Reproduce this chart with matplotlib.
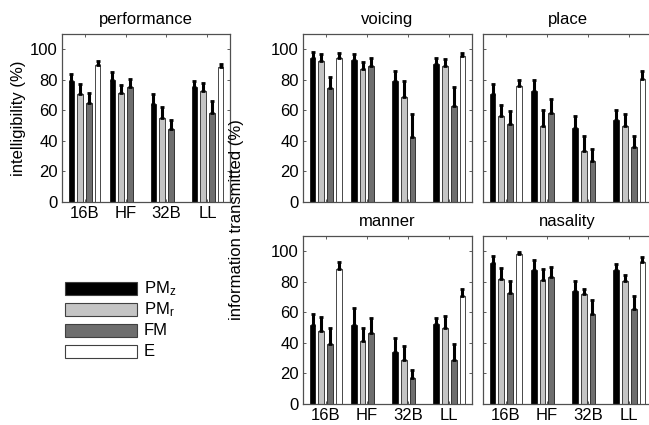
import numpy as np
import matplotlib
matplotlib.use("Agg")
import matplotlib.pyplot as plt
from matplotlib.patches import Rectangle

plt.rcParams['font.family'] = ['Liberation Sans', 'DejaVu Sans']
plt.rcParams['mathtext.fontset'] = 'custom'
plt.rcParams['mathtext.rm'] = 'Liberation Sans'
plt.rcParams['mathtext.it'] = 'Liberation Sans'

conditions = ['16B', 'HF', '32B', 'LL']
series = ['PM$_z$', 'PM$_r$', 'FM', 'E']
colors = ['#000000', '#c4c4c4', '#6e6e6e', '#ffffff']

performance_mean = [[79, 80, 64, 75], [71, 71.5, 55, 73], [65, 75, 47.5, 58.5], [90, np.nan, np.nan, 88.5]]
performance_err = [[5, 5, 7, 4.5], [6, 5, 7.5, 5], [6.5, 5.5, 6.5, 7.5], [2, 0, 0, 2]]

voicing_mean = [[94.5, 93, 79, 90.5], [92.5, 87, 69, 89], [74.5, 89, 42.5, 63], [94.5, np.nan, np.nan, 95.5]]
voicing_err = [[3.5, 4, 7, 4], [4.5, 4.5, 10, 4.5], [7.5, 5, 15, 12], [3, 0, 0, 2]]

place_mean = [[70.5, 72.5, 48.5, 54], [56, 50, 33.5, 50], [51, 58.5, 27, 36], [76, np.nan, np.nan, 80.5]]
place_err = [[7, 7.5, 7.5, 6.5], [7.5, 10, 10, 7.5], [8.5, 9, 8, 7.5], [4, 0, 0, 5]]

manner_mean = [[51.5, 51.5, 34, 52.5], [48, 41, 29, 50], [39.5, 46.5, 17, 29], [88.5, np.nan, np.nan, 71]]
manner_err = [[7.5, 11.5, 9, 4], [9, 8.5, 9, 7.5], [10, 10, 5, 10], [4.5, 0, 0, 4.5]]

nasality_mean = [[92, 87.5, 74, 88], [82, 81, 72, 80.5], [72.5, 83, 59, 62.5], [98, np.nan, np.nan, 93]]
nasality_err = [[5, 7, 6.5, 3.5], [7, 7.5, 3.5, 4], [8, 7, 9, 8], [1.5, 0, 0, 3]]

W, H = 649, 425
fig = plt.figure(figsize=(W / 100, H / 100), dpi=100)


def px_axes(l, t, r, b):
    return fig.add_axes([l / W, 1 - b / H, (r - l) / W, (b - t) / H])


def draw_panel(ax, means, errs, title, xlabels=True, ylabels=True):
    x = np.arange(1, len(conditions) + 1)
    step, width = 0.213, 0.14
    for i in range(len(series)):
        m = np.array(means[i], dtype=float)
        e = np.array(errs[i], dtype=float)
        pos = x + (i - 1.5) * step
        ok = ~np.isnan(m)
        ax.bar(pos[ok], m[ok], width, color=colors[i], edgecolor='black',
               linewidth=0.5, zorder=2)
        ax.errorbar(pos[ok], m[ok], yerr=[np.zeros(ok.sum()), e[ok]], fmt='none',
                    ecolor='black', elinewidth=2.2, capsize=1.2, capthick=2,
                    zorder=3)
    ax.set_xlim(0.45, 4.55)
    ax.set_ylim(0, 110)
    ax.set_xticks(x)
    ax.set_yticks(np.arange(0, 101, 20))
    ax.set_xticklabels(conditions if xlabels else [])
    if not ylabels:
        ax.set_yticklabels([])
    ax.tick_params(direction='in', length=2, width=0.6, top=True, right=True,
                   labelsize=12, pad=3, color='#404040')
    for s in ax.spines.values():
        s.set_color('#505050')
        s.set_linewidth(0.9)
    ax.set_title(title, fontsize=12, pad=7)


ax_perf = px_axes(62, 34, 230, 202)
draw_panel(ax_perf, performance_mean, performance_err, 'performance')
ax_perf.set_ylabel('intelligibility (%)', fontsize=12, labelpad=3)

ax_voic = px_axes(303, 34, 472, 202)
draw_panel(ax_voic, voicing_mean, voicing_err, 'voicing', xlabels=False)

ax_place = px_axes(483, 34, 652, 202)
draw_panel(ax_place, place_mean, place_err, 'place', xlabels=False, ylabels=False)

ax_man = px_axes(303, 236, 472, 404)
draw_panel(ax_man, manner_mean, manner_err, 'manner')

ax_nas = px_axes(483, 236, 652, 404)
draw_panel(ax_nas, nasality_mean, nasality_err, 'nasality', ylabels=False)

fig.text(236 / W, 1 - 220 / H, 'information transmitted (%)', rotation=90,
         ha='center', va='center', fontsize=12)

# legend drawn by hand
lax = px_axes(60, 270, 200, 370)
lax.set_xlim(60, 200)
lax.set_ylim(370, 270)
lax.axis('off')
for i, (lab, col) in enumerate(zip(series, colors)):
    top = 282 + i * 21
    lax.add_patch(Rectangle((65, top), 72, 13, facecolor=col, edgecolor='#404040',
                            linewidth=0.8))
    lax.text(144, top + 6.5, lab, ha='left', va='center', fontsize=12)

fig.savefig('out.png', dpi=100)
